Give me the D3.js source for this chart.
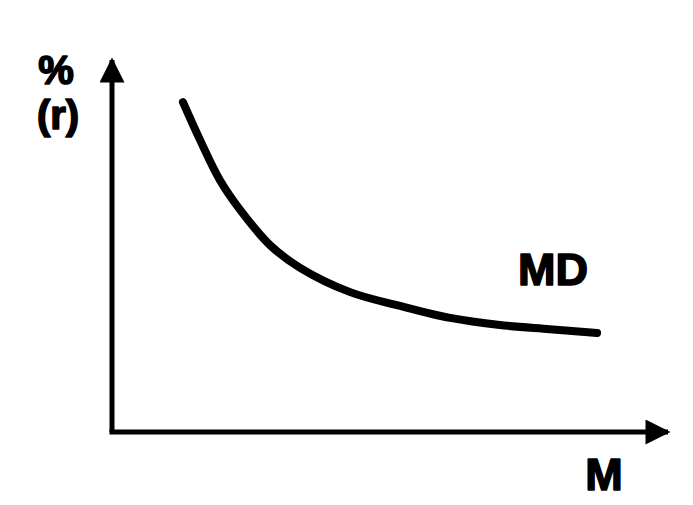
<!DOCTYPE html>
<html><head><meta charset="utf-8">
<script src="https://cdn.jsdelivr.net/npm/d3@7"></script>
<style>body{margin:0;background:#fff}svg{display:block}text{font-family:"Liberation Sans",Arial,sans-serif;font-weight:bold;fill:#000;stroke:#000;stroke-width:1.6px;stroke-linejoin:round}</style>
</head><body>
<script>
const moneyQty = [12.9, 16.0, 19.6, 23.3, 28.7, 34.2, 43.3, 52.4, 61.5, 70.5, 79.6, 88.2];
const interest = [88.2, 78.1, 67.4, 59.4, 50.0, 43.9, 37.4, 33.7, 30.5, 28.6, 27.5, 26.5];
const yLabel = ["%", "(r)"];
const xLabel = "M";
const curveLabel = "MD";

const W = 693, H = 505;
const svg = d3.select("body").append("svg").attr("width", W).attr("height", H);
const x = d3.scaleLinear().domain([0, 100]).range([112, 662]);
const y = d3.scaleLinear().domain([0, 100]).range([432, 58]);

const defs = svg.append("defs");
defs.append("marker").attr("id","ah").attr("viewBox","0 0 10 10").attr("refX",9).attr("refY",5)
  .attr("markerWidth",5.5).attr("markerHeight",5).attr("markerUnits","strokeWidth").attr("orient","auto")
  .append("path").attr("d","M0,0 L10,5 L0,10 Z").attr("fill","#000");

svg.append("line").attr("x1", x(0)).attr("y1", y(0)).attr("x2", x(0)).attr("y2", y(100) + 2)
  .attr("stroke","#000").attr("stroke-width",5).attr("marker-end","url(#ah)");
svg.append("line").attr("x1", x(0) - 2.5).attr("y1", y(0)).attr("x2", x(100) + 6).attr("y2", y(0))
  .attr("stroke","#000").attr("stroke-width",5).attr("marker-end","url(#ah)");

const pts = moneyQty.map((m, i) => [m, interest[i]]);
svg.append("path").datum(pts)
  .attr("d", d3.line().x(d => x(d[0])).y(d => y(d[1])).curve(d3.curveCatmullRom.alpha(0.5)))
  .attr("fill","none").attr("stroke","#000").attr("stroke-width",8).attr("stroke-linecap","round");

svg.append("text").attr("x", 56).attr("y", 84).attr("text-anchor","middle").attr("font-size",40).text(yLabel[0]);
svg.append("text").attr("x", 58).attr("y", 129).attr("text-anchor","middle").attr("font-size",40).text(yLabel[1]);
svg.append("text").attr("x", 604).attr("y", 490).attr("text-anchor","middle").attr("font-size",45).text(xLabel);
svg.append("text").attr("x", 553).attr("y", 285).attr("text-anchor","middle").attr("font-size",45).text(curveLabel);
</script>
</body></html>
